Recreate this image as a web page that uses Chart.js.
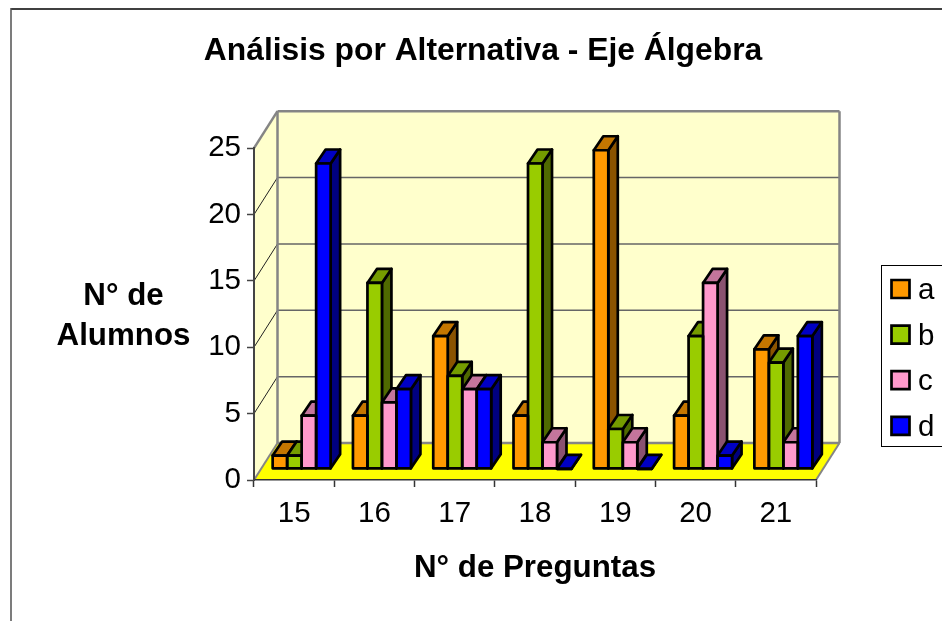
<!DOCTYPE html>
<html>
<head>
<meta charset="utf-8">
<title>Análisis por Alternativa</title>
<script src="https://cdn.jsdelivr.net/npm/chart.js@4"></script>
<style>
  html, body { margin: 0; padding: 0; background: #fff; overflow: hidden; }
  canvas { display: block; }
</style>
</head>
<body>
<canvas id="chart" width="942" height="621"></canvas>
<script>
// ---------- Data ----------
const preguntas = ["15", "16", "17", "18", "19", "20", "21"];
const serieA = [1, 4, 10, 4, 24, 4, 9];
const serieB = [1, 14, 7, 23, 3, 10, 8];
const serieC = [4, 5, 6, 2, 2, 14, 2];
const serieD = [23, 6, 6, 0, 0, 1, 10];
const yTicks = [0, 5, 10, 15, 20, 25];
const tituloY = ["N° de", "Alumnos"];

// front, top and side colours of each series
const frente = ["#FF9900", "#99CC00", "#FF99CC", "#0000FF"];
const tapa = ["#C47600", "#759C00", "#C4759C", "#0000C4"];
const lado = ["#8A5300", "#4F6A00", "#8A5270", "#000080"];

// ---------- 3D offsets ----------
const WALL_DX = 23.5, WALL_DY = -37;   // back wall against the front axes
const BAR_DX = 7.5, BAR_DY = -11.2;    // where the bars stand on the floor
const DEPTH_DX = 9.5, DEPTH_DY = -14;  // depth of each bar
const TRAZO = 2.7;                     // bar outline

const FUENTE = "'Liberation Sans', Arial, sans-serif";
Chart.defaults.font.family = FUENTE;
Chart.defaults.color = "#000";

function poly(ctx, pts, fill, stroke, lw) {
  ctx.beginPath();
  pts.forEach((p, i) => (i ? ctx.lineTo(p[0], p[1]) : ctx.moveTo(p[0], p[1])));
  ctx.closePath();
  if (fill) { ctx.fillStyle = fill; ctx.fill(); }
  if (stroke) { ctx.strokeStyle = stroke; ctx.lineWidth = lw; ctx.stroke(); }
}

function line(ctx, x1, y1, x2, y2, color, lw) {
  ctx.beginPath();
  ctx.moveTo(x1, y1);
  ctx.lineTo(x2, y2);
  ctx.strokeStyle = color;
  ctx.lineWidth = lw;
  ctx.stroke();
}

// ---------- Walls, floor, frame ----------
const wallsPlugin = {
  id: "walls",
  beforeDraw(chart) {
    const ctx = chart.ctx;
    const { left, right, top, bottom } = chart.chartArea;
    const y = chart.scales.y;
    const dx = WALL_DX, dy = WALL_DY;
    ctx.save();
    // outer frame, cut by the window on the right and at the bottom
    line(ctx, 11, 9, 942, 9, "#404040", 2);
    line(ctx, 11, 8, 11, 621, "#505050", 1.5);
    // floor
    poly(ctx, [[left, bottom], [right, bottom], [right + dx, bottom + dy], [left + dx, bottom + dy]], "#FFFF00");
    // side wall and back wall
    poly(ctx, [[left, top], [left + dx, top + dy], [left + dx, bottom + dy], [left, bottom]], "#FFFFCC");
    poly(ctx, [[left + dx, top + dy], [right + dx, top + dy], [right + dx, bottom + dy], [left + dx, bottom + dy]], "#FFFFCC");
    // gridlines
    yTicks.forEach((v) => {
      if (v === 0 || v === 25) return;
      const py = y.getPixelForValue(v);
      line(ctx, left, py, left + dx, py + dy, "#222", 1);
      line(ctx, left + dx, py + dy, right + dx, py + dy, "#666", 1.5);
    });
    // gray edges
    const gris = "#858585";
    line(ctx, left, top, left + dx, top + dy, gris, 2.5);
    line(ctx, left + dx, top + dy, right + dx, top + dy, gris, 2.5);
    line(ctx, left + dx, top + dy, left + dx, bottom + dy, gris, 2.5);
    line(ctx, right + dx, top + dy, right + dx, bottom + dy, gris, 2.5);
    line(ctx, left + dx, bottom + dy, right + dx, bottom + dy, gris, 2.5);
    line(ctx, left, bottom, left + dx, bottom + dy, gris, 2);
    line(ctx, right, bottom, right + dx, bottom + dy, gris, 2);
    ctx.restore();
  },
  afterDraw(chart) {
    const ctx = chart.ctx;
    ctx.save();
    // legend, to the right of the floor and cut by the window
    ctx.strokeStyle = "#000";
    ctx.lineWidth = 1;
    ctx.strokeRect(881.5, 265.5, 80, 181);
    ctx.font = "29.5px " + FUENTE;
    ctx.textAlign = "left";
    ctx.textBaseline = "alphabetic";
    chart.data.datasets.forEach((ds, i) => {
      const cy = 289 + i * 45.6;
      poly(ctx, [[891.5, cy - 9], [909.5, cy - 9], [909.5, cy + 9], [891.5, cy + 9]], ds.backgroundColor, "#000", TRAZO);
      ctx.fillStyle = "#000";
      ctx.fillText(ds.label, 918, cy + 10);
    });
    // horizontal y axis title
    ctx.font = "bold 31.3px " + FUENTE;
    ctx.textAlign = "center";
    ctx.textBaseline = "middle";
    tituloY.forEach((t, i) => ctx.fillText(t, 123.5, 296 + i * 40));
    ctx.restore();
  },
};

// ---------- 3D bars: tops and sides behind the native fronts, outlines over them ----------
function barBox(chart, s, c) {
  const p = chart.getDatasetMeta(s).data[c].getProps(["x", "y", "base", "width"], true);
  return { l: p.x - p.width / 2, r: p.x + p.width / 2, t: p.y, b: p.base };
}

const barDepthPlugin = {
  id: "barDepth",
  beforeDatasetsDraw(chart) {
    const ctx = chart.ctx;
    ctx.save();
    ctx.translate(BAR_DX, BAR_DY);
    ctx.lineJoin = "round";
    for (let c = 0; c < preguntas.length; c++) {
      for (let s = 0; s < chart.data.datasets.length; s++) {
        const { l, r, t, b } = barBox(chart, s, c);
        poly(ctx, [[r, t], [r + DEPTH_DX, t + DEPTH_DY], [r + DEPTH_DX, b + DEPTH_DY], [r, b]], lado[s], "#000", TRAZO);
        poly(ctx, [[l, t], [l + DEPTH_DX, t + DEPTH_DY], [r + DEPTH_DX, t + DEPTH_DY], [r, t]], tapa[s], "#000", TRAZO);
      }
    }
  },
  afterDatasetsDraw(chart) {
    const ctx = chart.ctx;
    for (let c = 0; c < preguntas.length; c++) {
      for (let s = 0; s < chart.data.datasets.length; s++) {
        const { l, r, t, b } = barBox(chart, s, c);
        poly(ctx, [[l, t], [r, t], [r, b], [l, b]], null, "#000", TRAZO);
      }
    }
    ctx.restore();
  },
};

function serie(label, data, i) {
  return {
    label,
    data,
    backgroundColor: frente[i],
    borderWidth: 0,
    inflateAmount: 0,
    clip: false,
    categoryPercentage: 0.722,
    barPercentage: 1,
  };
}

new Chart(document.getElementById("chart"), {
  type: "bar",
  data: {
    labels: preguntas,
    datasets: [
      serie("a", serieA, 0),
      serie("b", serieB, 1),
      serie("c", serieC, 2),
      serie("d", serieD, 3),
    ],
  },
  options: {
    responsive: false,
    animation: false,
    layout: { padding: { left: 150, right: 126 } },
    plugins: {
      tooltip: { enabled: false },
      legend: { display: false },
      title: {
        display: true,
        text: "Análisis por Alternativa - Eje Álgebra",
        font: { size: 31.8, weight: "bold" },
        color: "#000",
        padding: { top: 32, bottom: 78 },
      },
    },
    scales: {
      x: {
        afterFit: (s) => { s.height = 141; },
        grid: { drawOnChartArea: false, tickLength: 7, tickColor: "#333", tickWidth: 1.5, offset: true },
        border: { color: "#333", width: 1.5 },
        ticks: { font: { size: 29.5 }, color: "#000", padding: 9 },
        title: {
          display: true,
          text: "N° de Preguntas",
          font: { size: 31.3, weight: "bold" },
          color: "#000",
          padding: { top: 0, bottom: 34 },
        },
      },
      y: {
        min: 0,
        max: 25,
        afterFit: (s) => { s.width = 104; },
        afterBuildTicks: (s) => { s.ticks = yTicks.map((v) => ({ value: v })); },
        grid: { drawOnChartArea: false, tickLength: 7, tickColor: "#444", tickWidth: 1.5 },
        border: { color: "#444", width: 2 },
        ticks: { font: { size: 29.5 }, color: "#000", padding: 6 },
      },
    },
  },
  plugins: [wallsPlugin, barDepthPlugin],
});
</script>
</body>
</html>
